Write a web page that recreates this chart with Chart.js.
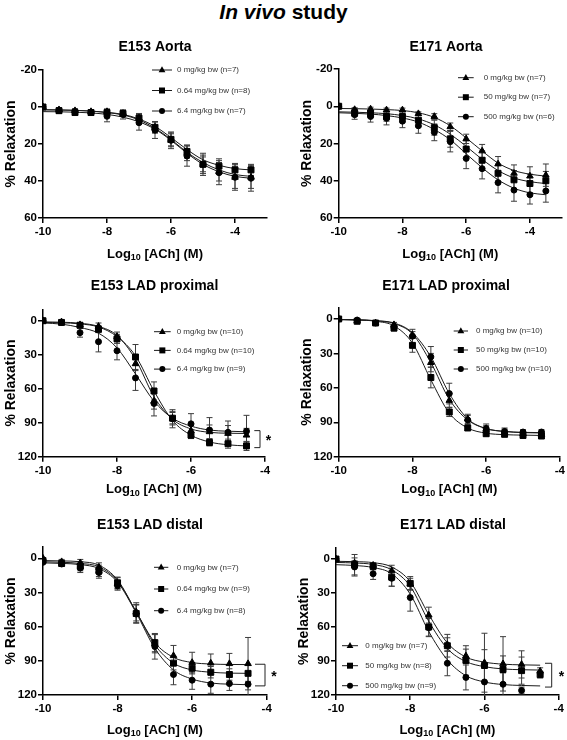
<!DOCTYPE html>
<html>
<head>
<meta charset="utf-8">
<script src="https://cdn.jsdelivr.net/npm/chart.js@4.4.0/dist/chart.umd.min.js"></script>
<style>
body{margin:0;background:#fff;width:567px;height:740px;position:relative;overflow:hidden;font-family:"Liberation Sans",Arial,sans-serif;}
#mainTitle{position:absolute;left:0;top:0;width:567px;text-align:center;font-weight:bold;font-size:21px;line-height:24px;color:#000;}
canvas{position:absolute;}
</style>
</head>
<body>
<div id="mainTitle"><i>In vivo</i> study</div>
<canvas id="c1" width="283" height="235" style="left:0;top:35px"></canvas>
<canvas id="c2" width="284" height="235" style="left:283px;top:35px"></canvas>
<canvas id="c3" width="283" height="230" style="left:0;top:270px"></canvas>
<canvas id="c4" width="284" height="230" style="left:283px;top:270px"></canvas>
<canvas id="c5" width="283" height="240" style="left:0;top:500px"></canvas>
<canvas id="c6" width="284" height="240" style="left:283px;top:500px"></canvas>
<script>

// log10 [ACh] concentrations
const aortaDoses = [-10,-9.5,-9,-8.5,-8,-7.5,-7,-6.5,-6,-5.5,-5,-4.5,-4,-3.5];
const ladDoses = [-10,-9.5,-9,-8.5,-8,-7.5,-7,-6.5,-6,-5.5,-5,-4.5];

const xTicks = [-10,-8,-6,-4];
const aortaYTicks = [-20,0,20,40,60];
const ladYTicks = [0,30,60,90,120];

// E153 Aorta
const e153AortaLabels = ["0 mg/kg bw (n=7)","0.64 mg/kg bw (n=8)","6.4 mg/kg bw (n=7)"];
const e153AortaMean = [
    [0,1.5,2,2.5,2.5,3.5,6,11,18,25,31,35,38,38],
    [0,2,3,3,3,3.5,6,11,17.5,24,31,32,34,34],
    [0,2,2.5,3,5,4,8.5,12.5,18,26.5,31,35.5,38,38.5]
];
const e153AortaSem = [
    [0,1,1,1,1.5,1.5,2,3,3.5,4,5,5,6,6],
    [0,1,1,1,1.5,1.5,2.5,3,3.5,3.5,4,4,3.5,3],
    [0,1.5,1.5,1.5,3,2.5,4,4.5,4.5,5.5,6,6.5,7,7]
];
const e153AortaFit = [
    [1.5,1.6,1.8,2.2,3,4.3,7,11.5,17.5,24.5,30,34,36.5,37.5],
    [1.5,1.6,1.8,2.2,2.9,4,6.5,10.5,16.5,23,28.5,31.5,33.3,34],
    [2.5,2.6,2.8,3.2,4,5.5,8,12,18,25,31,35,37.5,38.5]
];

// E171 Aorta
const e171AortaLabels = ["0 mg/kg bw (n=7)","50 mg/kg bw (n=7)","500 mg/kg bw (n=6)"];
const e171AortaMean = [
    [0,1.8,1.5,2,2,4,5.5,11,17.5,24,31,36,37.5,37],
    [0,3.5,4,5.5,5.5,7.5,11.5,17.5,23,29,36,39.5,41.5,40],
    [0,4.5,5.5,6.5,8,10.5,14,19,28,33.5,41,45,47.5,45.5]
];
const e171AortaSem = [
    [0,1,1,1,1,1,1.5,2,2.5,3.5,4,4.5,5,6],
    [0,2,2,2.5,3,3.5,4,4.5,4.5,5,5,5,5,5],
    [0,2.5,3,3.5,3.5,4,4.5,5.5,5.5,5.5,5.5,6,5,6]
];
const e171AortaFit = [
    [1.2,1.3,1.5,1.8,2.3,3.5,6,10.5,17,24,30.5,34.5,36.5,37.5],
    [3,3.2,3.5,4,5,6.8,10,15,21.5,28.5,34.5,38.5,40.5,41.5],
    [3.5,3.8,4.2,5,6.3,8.5,12.5,18,25.5,33,39.5,44,46.5,47.5]
];

// E153 LAD proximal
const e153ProxLabels = ["0 mg/kg bw (n=10)","0.64 mg/kg bw (n=10)","6.4 mg/kg bw (n=9)"];
const e153ProxMean = [
    [0,1,3.5,5,14,38,71,86,97,98,99.5,101],
    [0,1.5,4,7.5,16,32,62,86,101,107.5,108.5,110.5],
    [0,1.5,10.5,18.5,26.5,50.5,73,86.5,91,96.5,98.5,97.5]
];
const e153ProxSem = [
    [0,1,2,3,4,6,7,6,5,6,7,6],
    [0,1,2,3,4,11,8,5,3,3,4,4],
    [0,1.5,4,9,8,11,11,8,9,11,10,14]
];
const e153ProxFit = [
    [1,1.3,2.2,5,13,34,67,87,95.5,98.5,99.3,99.5],
    [1.5,1.8,2.8,5.5,14,31,62,88,101,107,109.5,110.5],
    [2,3,6,11,24,47,71,86,93,96.5,97.5,98]
];
const e153ProxBracket = [97,112];

// E171 LAD proximal
const e171ProxLabels = ["0 mg/kg bw (n=10)","50 mg/kg bw (n=10)","500 mg/kg bw (n=10)"];
const e171ProxMean = [
    [0,1.5,3.5,5,14,38,71,87,96,99,100,100.5],
    [0,2,3.5,8,23,51,81,95,100,100.5,101.5,102],
    [0,1,3.5,7.5,15,33,65,88,95.5,98,98.5,98.5]
];
const e171ProxSem = [
    [0,1,1,2,3,8,6,4,3,3,2,2],
    [0,1,1,2,6,9,4,2,2,2,2,2],
    [0,1,1,2,6,9,9,4,4,3,2,2]
];
const e171ProxFit = [
    [0.5,0.8,1.5,4,13,38,70,88,95.5,98,99,99.3],
    [0.5,0.8,2,6,21,53,82,95,99.5,100.8,101.2,101.5],
    [0.5,0.8,1.5,3.5,12,33,65,87,95.5,98,98.8,99]
];

// E153 LAD distal
const e153DistLabels = ["0 mg/kg bw (n=7)","0.64 mg/kg bw (n=9)","6.4 mg/kg bw (n=8)"];
const e153DistMean = [
    [0,3,4,8,22,47,75,85.5,91.5,92,92.5,92.5],
    [2,4.5,7,11,21.5,48.5,74,92,96.5,100,102,101],
    [3.5,5,8.5,12.5,24,49,77.5,102,107,110.5,110,110.5]
];
const e153DistSem = [
    [0,2,3,4,5,8,8,9,9,8,9,23],
    [0,2,4,5,5,8,8,6,5,5,5,7],
    [0,2,4,5,4,8,11,9,8,8,6,11]
];
const e153DistFit = [
    [2,2.3,3,6,19,47,74,87,91.5,92.8,93.2,93.3],
    [3,3.5,4.5,7.5,20,47,76,92,98,100,100.8,101],
    [4,4.5,5.5,9,21,48,79,98,106,109.5,110.5,111]
];
const e153DistBracket = [93,112];

// E171 LAD distal
const e171DistLabels = ["0 mg/kg bw (n=7)","50 mg/kg bw (n=8)","500 mg/kg bw (n=9)"];
const e171DistMean = [
    [0,3.5,5.5,10.5,22,49.5,75.5,85.5,91.5,92.5,93,99],
    [0,5,6.5,16,21.5,60,76.5,89.5,94,97.5,98.5,102],
    [0,7,13,17,34,60.5,92,104.5,108.5,110.5,116,null]
];
const e171DistSem = [
    [0,2,2,5,5,7,6,6,26,24,12,3],
    [0,9,3,8,6,8,10,13,14,12,12,3],
    [0,8,5,7,12,8,11,11,13,10,3,null]
];
const e171DistFit = [
    [2,2.3,3.2,7,20,49,74,86.5,91,92.8,93.4,93.7],
    [3,3.5,4.8,9.5,24,55,79,90.5,95,97,97.7,98],
    [5,5.7,7.5,13,31,64,89,103,108.5,110.8,111.6,112]
];
const e171DistBracket = [92,113];

const markerStyles = ["triangle","rect","circle"];
const markerRadius = [3.8,4.2,3];

const fontFamily = "'Liberation Sans', Arial, sans-serif";
Chart.defaults.font.family = fontFamily;

const panels = [
    {id:"c1",w:283,h:235,title:"E153 Aorta",titleX:155,titleY:12,xs:aortaDoses,xMax:-3,yMin:-20,yMax:60,yTicks:aortaYTicks,
     mean:e153AortaMean,sem:e153AortaSem,fit:e153AortaFit,labels:e153AortaLabels,
     area:{l:43,t:35,r:267,b:183},xTitleDy:36,
     legend:{x:152,w:20,tx:177,y0:35,dy:20.5},bracket:null},
    {id:"c2",w:284,h:235,title:"E171 Aorta",titleX:163,titleY:12.5,xs:aortaDoses,xMax:-3,yMin:-20,yMax:60,yTicks:aortaYTicks,
     mean:e171AortaMean,sem:e171AortaSem,fit:e171AortaFit,labels:e171AortaLabels,
     area:{l:55.7,t:34,r:279,b:183},xTitleDy:36,
     legend:{x:175,w:15.7,tx:200.7,y0:42.7,dy:19.5},bracket:null},
    {id:"c3",w:283,h:230,title:"E153 LAD proximal",titleX:154.5,titleY:16.5,xs:ladDoses,xMax:-4,yMin:-10,yMax:120,yTicks:ladYTicks,
     mean:e153ProxMean,sem:e153ProxSem,fit:e153ProxFit,labels:e153ProxLabels,
     area:{l:43,t:39.4,r:265,b:186.7},xTitleDy:33,
     legend:{x:154,w:16.7,tx:176.7,y0:61.7,dy:18.7},bracket:{y:e153ProxBracket,x1:254.3,x2:260,sx:268.5}},
    {id:"c4",w:284,h:230,title:"E171 LAD proximal",titleX:163,titleY:16,xs:ladDoses,xMax:-4,yMin:-10,yMax:120,yTicks:ladYTicks,
     mean:e171ProxMean,sem:e171ProxSem,fit:e171ProxFit,labels:e171ProxLabels,
     area:{l:55.7,t:37.5,r:277,b:186.7},xTitleDy:33,
     legend:{x:170.7,w:14.3,tx:193,y0:61,dy:19},bracket:null},
    {id:"c5",w:283,h:240,title:"E153 LAD distal",titleX:150,titleY:25,xs:ladDoses,xMax:-4,yMin:-10,yMax:120,yTicks:ladYTicks,
     mean:e153DistMean,sem:e153DistSem,fit:e153DistFit,labels:e153DistLabels,
     area:{l:43,t:46.9,r:266.7,b:195},xTitleDy:35,
     legend:{x:154,w:14.3,tx:176.7,y0:67.3,dy:21.7},bracket:{y:e153DistBracket,x1:255,x2:265,sx:274}},
    {id:"c6",w:284,h:240,title:"E171 LAD distal",titleX:170,titleY:25,xs:ladDoses,xMax:-4,yMin:-10,yMax:120,yTicks:ladYTicks,
     mean:e171DistMean,sem:e171DistSem,fit:e171DistFit,labels:e171DistLabels,
     area:{l:53,t:47.7,r:275.7,b:195},xTitleDy:35,
     legend:{x:59,w:16,tx:82.3,y0:145.7,dy:20},bracket:{y:e171DistBracket,x1:262,x2:268.7,sx:278.5}}
];

panels.forEach(p=>makeChart(p));

function drawMarker(ctx,style,x,y){

    ctx.beginPath();

    if(style === "triangle"){
        ctx.moveTo(x,y-3.8);
        ctx.lineTo(x+3.4,y+2.2);
        ctx.lineTo(x-3.4,y+2.2);
        ctx.closePath();
    }
    else if(style === "rect"){
        ctx.rect(x-3,y-3,6,6);
    }
    else{
        ctx.arc(x,y,3,0,Math.PI*2);
    }

    ctx.fill();
}

function drawXTitle(ctx,cx,cy){

    const big = "bold 13px " + fontFamily;
    const small = "bold 9px " + fontFamily;

    ctx.font = big;
    const w1 = ctx.measureText("Log").width;
    const w3 = ctx.measureText(" [ACh] (M)").width;
    ctx.font = small;
    const w2 = ctx.measureText("10").width;

    let x = cx - (w1 + w2 + w3) / 2;

    ctx.textAlign = "left";
    ctx.textBaseline = "middle";

    ctx.font = big;
    ctx.fillText("Log",x,cy);
    x += w1;

    ctx.font = small;
    ctx.fillText("10",x,cy + 4);
    x += w2;

    ctx.font = big;
    ctx.fillText(" [ACh] (M)",x,cy);
}

function makePlugin(p){

    return {
        id:"panelExtras",

        beforeDatasetsDraw(chart){

            const ctx = chart.ctx;
            const xs = chart.scales.x;
            const ys = chart.scales.y;
            const a = chart.chartArea;

            ctx.save();
            ctx.beginPath();
            ctx.rect(a.left,a.top,a.right - a.left,a.bottom - a.top);
            ctx.clip();

            ctx.strokeStyle = "#3c3c3c";
            ctx.lineWidth = 1;

            chart.data.datasets.forEach(ds=>{

                if(!ds.errors) return;

                ds.data.forEach((pt,j)=>{

                    const e = ds.errors[j];

                    if(pt.y === null || !e) return;

                    const px = xs.getPixelForValue(pt.x);
                    const y1 = ys.getPixelForValue(pt.y - e);
                    const y2 = ys.getPixelForValue(pt.y + e);

                    ctx.beginPath();
                    ctx.moveTo(px,y1);
                    ctx.lineTo(px,y2);
                    ctx.moveTo(px - 3,y1);
                    ctx.lineTo(px + 3,y1);
                    ctx.moveTo(px - 3,y2);
                    ctx.lineTo(px + 3,y2);
                    ctx.stroke();
                });
            });

            ctx.restore();
        },

        afterDraw(chart){

            const ctx = chart.ctx;
            const a = chart.chartArea;

            ctx.save();
            ctx.fillStyle = "#000";

            // panel title
            ctx.font = "bold 14px " + fontFamily;
            ctx.textAlign = "center";
            ctx.textBaseline = "middle";
            ctx.fillText(p.title,p.titleX,p.titleY);

            // y axis title
            ctx.save();
            ctx.translate(a.left - 32,(a.top + a.bottom) / 2);
            ctx.rotate(-Math.PI / 2);
            ctx.font = "bold 14px " + fontFamily;
            ctx.fillText("% Relaxation",0,0);
            ctx.restore();

            // x axis title
            drawXTitle(ctx,(a.left + a.right) / 2,a.bottom + p.xTitleDy);

            // legend
            const lg = p.legend;

            p.labels.forEach((label,i)=>{

                const y = lg.y0 + i * lg.dy;

                ctx.strokeStyle = "#1a1a1a";
                ctx.lineWidth = 1;
                ctx.beginPath();
                ctx.moveTo(lg.x,y);
                ctx.lineTo(lg.x + lg.w,y);
                ctx.stroke();

                ctx.fillStyle = "#000";
                drawMarker(ctx,markerStyles[i],lg.x + lg.w / 2,y);

                ctx.fillStyle = "#333";
                ctx.font = "8px " + fontFamily;
                ctx.textAlign = "left";
                ctx.textBaseline = "middle";
                ctx.fillText(label,lg.tx,y);
            });

            // significance bracket
            if(p.bracket){

                const b = p.bracket;
                const ys = chart.scales.y;
                const y1 = ys.getPixelForValue(b.y[0]);
                const y2 = ys.getPixelForValue(b.y[1]);

                ctx.strokeStyle = "#222";
                ctx.lineWidth = 1;
                ctx.beginPath();
                ctx.moveTo(b.x1,y1);
                ctx.lineTo(b.x2,y1);
                ctx.lineTo(b.x2,y2);
                ctx.lineTo(b.x1,y2);
                ctx.stroke();

                ctx.fillStyle = "#000";
                ctx.font = "bold 14px " + fontFamily;
                ctx.textAlign = "center";
                ctx.textBaseline = "middle";
                ctx.fillText("*",b.sx,(y1 + y2) / 2 + 2);
            }

            ctx.restore();
        }
    };
}

function makeChart(p){

    const datasets = [];

    p.fit.forEach((row,i)=>{

        datasets.push({
            data:p.xs.map((x,j)=>({x:x,y:row[j]})),
            borderColor:"#1a1a1a",
            borderWidth:1,
            pointRadius:0,
            cubicInterpolationMode:"monotone",
            fill:false,
            order:2
        });
    });

    p.mean.forEach((row,i)=>{

        datasets.push({
            data:p.xs.map((x,j)=>({x:x,y:row[j]})),
            showLine:false,
            pointStyle:markerStyles[i],
            pointRadius:markerRadius[i],
            pointBackgroundColor:"#000",
            pointBorderColor:"#000",
            pointBorderWidth:1,
            errors:p.sem[i],
            order:1
        });
    });

    const tickFont = {size:11.5,weight:"bold",family:fontFamily};

    new Chart(

    document.getElementById(p.id),

    {
        type:"line",

        data:{datasets},

        options:{
            responsive:false,
            animation:false,
            devicePixelRatio:1,
            events:[],

            layout:{
                padding:{left:0,top:p.area.t,right:p.w - p.area.r,bottom:0}
            },

            plugins:{
                legend:{display:false},
                tooltip:{enabled:false}
            },

            scales:{
                x:{
                    type:"linear",
                    min:-10,
                    max:p.xMax,
                    afterBuildTicks:s=>{ s.ticks = xTicks.map(v=>({value:v})); },
                    afterFit:s=>{ s.height = p.h - p.area.b; },
                    grid:{drawOnChartArea:false,drawTicks:true,tickLength:5,color:"#000",lineWidth:1.5},
                    border:{display:true,color:"#000",width:1.5},
                    ticks:{color:"#000",font:tickFont,padding:2,maxRotation:0,autoSkip:false,callback:v=>String(v)}
                },
                y:{
                    type:"linear",
                    reverse:true,
                    min:p.yMin,
                    max:p.yMax,
                    afterBuildTicks:s=>{ s.ticks = p.yTicks.map(v=>({value:v})); },
                    afterFit:s=>{ s.width = p.area.l; },
                    grid:{drawOnChartArea:false,drawTicks:true,tickLength:5,color:"#000",lineWidth:1.5},
                    border:{display:true,color:"#000",width:1.5},
                    ticks:{color:"#000",font:tickFont,padding:1,autoSkip:false,callback:v=>String(v)}
                }
            }
        },

        plugins:[makePlugin(p)]
    });
}

</script>
</body>
</html>
